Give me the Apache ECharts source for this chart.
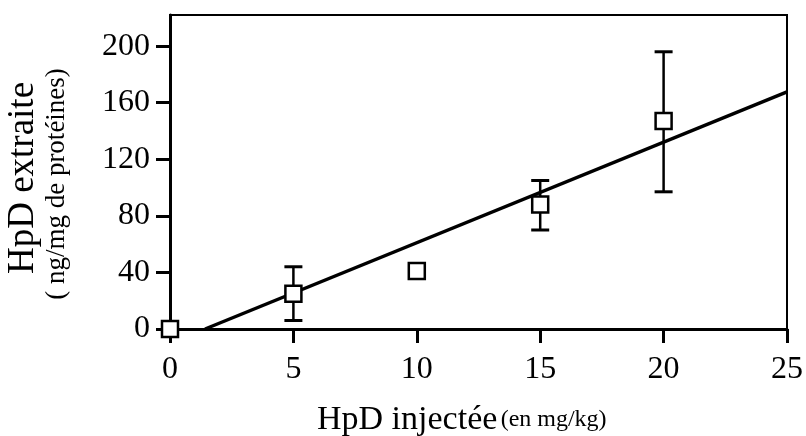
<!DOCTYPE html>
<html>
<head>
<meta charset="utf-8">
<script src="https://cdn.jsdelivr.net/npm/echarts@6/dist/echarts.min.js"></script>
<style>
  html, body { margin: 0; padding: 0; background: #fff; }
  #chart { width: 806px; height: 436px; }
</style>
</head>
<body>
<div id="chart"></div>
<script>
// Dose injected (mg/kg) and HpD recovered (ng/mg protein)
const doses = [0, 5, 10, 15, 20];
const means = [0, 25, 41, 88, 147];
const lowErr = [null, 6, null, 70, 97];
const highErr = [null, 44, null, 105, 196];
// Linear fit drawn across the dose range
const fitLine = [[1.42, 0], [25, 167.7]];
const xTicks = [0, 5, 10, 15, 20, 25];
const yTicks = [0, 40, 80, 120, 160, 200];

const serif = '"Liberation Serif", "DejaVu Serif", serif';

const points = doses.map((d, i) => [d, means[i]]);
const bars = [];
doses.forEach((d, i) => {
  if (lowErr[i] != null) bars.push([d, lowErr[i], highErr[i]]);
});

const chart = echarts.init(document.getElementById('chart'), null, { renderer: 'canvas' });

chart.setOption({
  animation: false,
  backgroundColor: '#fff',
  grid: {
    left: 170, right: 19, top: 15, bottom: 107,
    show: true, borderColor: '#000', borderWidth: 2, backgroundColor: 'transparent'
  },
  xAxis: {
    type: 'value', min: 0, max: 25, interval: 5,
    axisLine: { show: true, onZero: false, lineStyle: { color: '#000', width: 3 } },
    axisTick: { show: true, inside: false, length: 14, lineStyle: { color: '#000', width: 3 }, customValues: xTicks },
    axisLabel: { color: '#000', fontFamily: serif, fontSize: 32, margin: 25, customValues: xTicks },
    splitLine: { show: false }
  },
  yAxis: {
    type: 'value', min: 0, max: 222, interval: 40,
    axisLine: { show: true, onZero: false, lineStyle: { color: '#000', width: 3 } },
    axisTick: { show: true, inside: false, length: 14, lineStyle: { color: '#000', width: 3 }, customValues: yTicks },
    axisLabel: { color: '#000', fontFamily: serif, fontSize: 32, margin: 20, customValues: yTicks },
    splitLine: { show: false }
  },
  graphic: [
    {
      type: 'text', rotation: Math.PI / 2, x: 23, y: 178,
      style: { text: 'HpD extraite', font: '37px ' + serif, fill: '#000', align: 'center', verticalAlign: 'middle' }
    },
    {
      type: 'text', rotation: Math.PI / 2, x: 57, y: 184,
      style: { text: '( ng/mg de protéines)', font: '27px ' + serif, fill: '#000', align: 'center', verticalAlign: 'middle' }
    },
    {
      type: 'text', x: 317, y: 420,
      style: {
        text: '{a|HpD injectée} {b|(en mg/kg)}',
        fill: '#000', verticalAlign: 'middle',
        rich: {
          a: { fontFamily: serif, fontSize: 34, fill: '#000' },
          b: { fontFamily: serif, fontSize: 24, fill: '#000' }
        }
      }
    }
  ],
  series: [
    {
      type: 'line', data: fitLine, symbol: 'none', z: 2,
      lineStyle: { color: '#000', width: 3.5 }
    },
    {
      type: 'custom', data: bars, z: 3,
      renderItem: function (params, api) {
        const x = api.value(0);
        const lo = api.coord([x, api.value(1)]);
        const hi = api.coord([x, api.value(2)]);
        const cap = 9;
        return {
          type: 'group',
          children: [
            { type: 'line', shape: { x1: lo[0], y1: lo[1], x2: hi[0], y2: hi[1] }, style: { stroke: '#000', lineWidth: 2.5 } },
            { type: 'line', shape: { x1: lo[0] - cap, y1: lo[1], x2: lo[0] + cap, y2: lo[1] }, style: { stroke: '#000', lineWidth: 3 } },
            { type: 'line', shape: { x1: hi[0] - cap, y1: hi[1], x2: hi[0] + cap, y2: hi[1] }, style: { stroke: '#000', lineWidth: 3 } }
          ]
        };
      }
    },
    {
      type: 'scatter', data: points, z: 5, clip: false,
      symbol: 'rect', symbolSize: 16,
      itemStyle: { color: '#fff', borderColor: '#000', borderWidth: 2.5, opacity: 1 }
    }
  ]
});
</script>
</body>
</html>
